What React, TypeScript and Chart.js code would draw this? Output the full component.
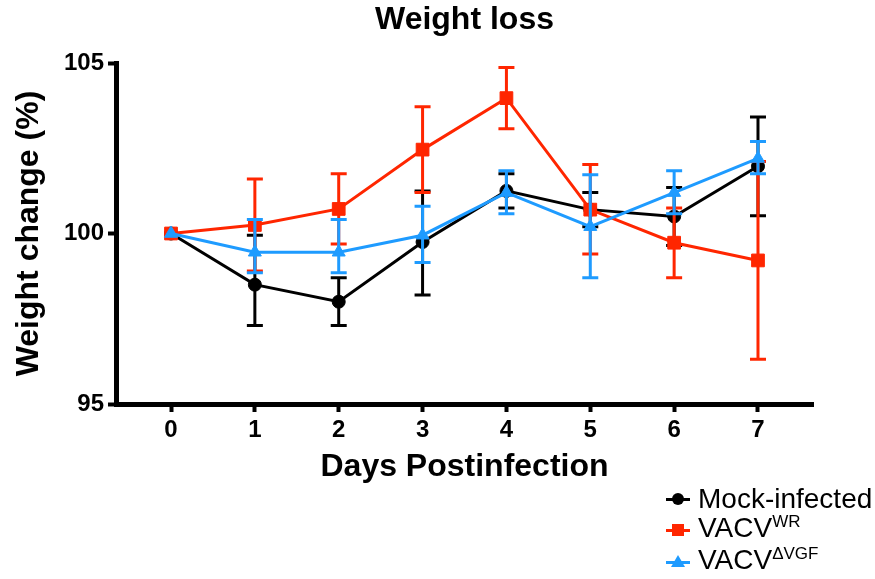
import React, { useEffect, useRef } from "react";
import { Chart, registerables } from "chart.js";

Chart.register(...registerables);

// ---- data ----
const days = [0, 1, 2, 3, 4, 5, 6, 7];
const yTicks = [95, 100, 105];

const mockMean = [100, 98.5, 98.0, 99.75, 101.25, 100.7, 100.5, 101.97];
const mockErrUp = [0, 1.45, 0.7, 1.5, 0.5, 0.5, 0.85, 1.45];
const mockErrDown = [0, 1.2, 0.7, 1.55, 0.5, 0.5, 0.85, 1.45];

const wrMean = [100, 100.25, 100.72, 102.46, 103.97, 100.7, 99.73, 99.21];
const wrErrUp = [0, 1.35, 1.03, 1.26, 0.9, 1.32, 1.02, 2.9];
const wrErrDown = [0, 1.35, 1.03, 1.26, 0.9, 1.3, 1.03, 2.9];

const vgfMean = [100, 99.45, 99.45, 99.95, 101.2, 100.2, 101.2, 102.2];
const vgfErrUp = [0, 0.96, 0.96, 0.85, 0.64, 1.52, 0.64, 0.5];
const vgfErrDown = [0, 0.6, 0.6, 0.8, 0.62, 1.5, 0.62, 0.45];

const BLACK = "#000000";
const RED = "#FF2600";
const BLUE = "#1E9BFF";
const FONT = "'Liberation Sans', Arial, Helvetica, sans-serif";

const errorBarPlugin = {
  id: "errorBars",
  beforeDatasetDraw(chart: any, args: any) {
    const ds = chart.data.datasets[args.index];
    if (!ds.errUp) return;
    const { ctx, scales } = chart;
    const xs = scales.x;
    const ys = scales.y;
    ctx.save();
    ctx.strokeStyle = ds.borderColor;
    ctx.lineWidth = 3;
    ctx.lineCap = "butt";
    ds.data.forEach((p: any, i: number) => {
      const up = ds.errUp[i];
      const down = ds.errDown[i];
      if (!up && !down) return;
      const x = xs.getPixelForValue(p.x);
      const yT = ys.getPixelForValue(p.y + up);
      const yB = ys.getPixelForValue(p.y - down);
      const half = 8;
      ctx.beginPath();
      ctx.moveTo(x, yT);
      ctx.lineTo(x, yB);
      ctx.moveTo(x - half, yT);
      ctx.lineTo(x + half, yT);
      ctx.moveTo(x - half, yB);
      ctx.lineTo(x + half, yB);
      ctx.stroke();
    });
    ctx.restore();
  },
};

function toPoints(vals: number[]) {
  return vals.map((v, i) => ({ x: days[i], y: v }));
}

export default function App() {
  const ref = useRef<HTMLCanvasElement | null>(null);

  useEffect(() => {
    if (!ref.current) return;
    const chart = new Chart(ref.current, {
      type: "line",
      data: {
        datasets: [
          {
            label: "VACV ΔVGF",
            data: toPoints(vgfMean),
            errUp: vgfErrUp,
            errDown: vgfErrDown,
            borderColor: BLUE,
            backgroundColor: BLUE,
            borderWidth: 3,
            pointStyle: "triangle",
            pointRadius: 7.5,
            pointBorderWidth: 1,
            tension: 0,
            order: 0,
          } as any,
          {
            label: "VACV WR",
            data: toPoints(wrMean),
            errUp: wrErrUp,
            errDown: wrErrDown,
            borderColor: RED,
            backgroundColor: RED,
            borderWidth: 3,
            pointStyle: "rect",
            pointRadius: 9,
            pointBorderWidth: 1,
            tension: 0,
            order: 1,
          } as any,
          {
            label: "Mock-infected",
            data: toPoints(mockMean),
            errUp: mockErrUp,
            errDown: mockErrDown,
            borderColor: BLACK,
            backgroundColor: BLACK,
            borderWidth: 3,
            pointStyle: "circle",
            pointRadius: 6.5,
            pointBorderWidth: 1,
            tension: 0,
            order: 2,
          } as any,
        ],
      },
      options: {
        responsive: false,
        animation: false,
        devicePixelRatio: 1,
        layout: { padding: { left: 0, right: 62, top: 0, bottom: 0 } },
        plugins: {
          legend: { display: false },
          tooltip: { enabled: false },
          title: {
            display: true,
            text: "Weight loss",
            color: BLACK,
            fullSize: false,
            font: { family: FONT, size: 32, weight: "bold" },
            padding: { top: 1, bottom: 23.6 },
          },
        },
        scales: {
          x: {
            type: "linear",
            min: -0.656,
            max: 7.656,
            afterBuildTicks: (s: any) => {
              s.ticks = days.map((v) => ({ value: v }));
            },
            afterFit: (s: any) => {
              s.height = 175;
            },
            ticks: {
              color: BLACK,
              padding: 4,
              font: { family: FONT, size: 24, weight: "bold" },
              callback: (v: any) => String(v),
            },
            grid: {
              display: true,
              drawOnChartArea: false,
              drawTicks: true,
              tickLength: 8,
              tickWidth: 4,
              tickColor: BLACK,
            },
            border: { display: true, width: 5, color: BLACK },
            title: {
              display: true,
              text: "Days Postinfection",
              color: BLACK,
              font: { family: FONT, size: 32, weight: "bold" },
              padding: { top: 0, bottom: 92.8 },
            },
          },
          y: {
            type: "linear",
            min: 95,
            max: 105,
            afterBuildTicks: (s: any) => {
              s.ticks = yTicks.map((v) => ({ value: v }));
            },
            afterFit: (s: any) => {
              s.width = 116;
            },
            ticks: {
              color: BLACK,
              padding: 4,
              font: { family: FONT, size: 24, weight: "bold" },
            },
            grid: {
              display: true,
              drawOnChartArea: false,
              drawTicks: true,
              tickLength: 8,
              tickWidth: 4,
              tickColor: BLACK,
            },
            border: { display: true, width: 5, color: BLACK },
            title: {
              display: true,
              text: "Weight change (%)",
              color: BLACK,
              font: { family: FONT, size: 32, weight: "bold" },
              padding: { top: 9.8, bottom: 0 },
            },
          },
        },
      } as any,
      plugins: [errorBarPlugin],
    });
    return () => chart.destroy();
  }, []);

  const rowStyle = (top: number): React.CSSProperties => ({
    position: "absolute",
    left: 666,
    top,
    height: 32,
    lineHeight: "32px",
    fontFamily: FONT,
    fontSize: 28,
    color: "#000",
    whiteSpace: "nowrap",
    display: "flex",
    alignItems: "center",
  });
  const lineSeg = (color: string): React.CSSProperties => ({
    position: "absolute",
    left: 0,
    top: 14.5,
    width: 24,
    height: 3,
    background: color,
  });
  const supStyle: React.CSSProperties = {
    fontSize: 17,
    position: "relative",
    top: -10,
  };

  return (
    <div
      style={{
        position: "fixed",
        left: 0,
        top: 0,
        width: 875,
        height: 579,
        background: "#fff",
        overflow: "hidden",
      }}
    >
      <canvas ref={ref} width={875} height={579} style={{ display: "block" }} />
      <div style={rowStyle(483)}>
        <div style={{ position: "relative", width: 32, height: 32 }}>
          <div style={lineSeg(BLACK)} />
          <div
            style={{
              position: "absolute",
              left: 6,
              top: 10,
              width: 12,
              height: 12,
              borderRadius: "50%",
              background: BLACK,
            }}
          />
        </div>
        <span>Mock-infected</span>
      </div>
      <div style={rowStyle(514)}>
        <div style={{ position: "relative", width: 32, height: 32 }}>
          <div style={lineSeg(RED)} />
          <div
            style={{
              position: "absolute",
              left: 6,
              top: 10,
              width: 12,
              height: 12,
              background: RED,
            }}
          />
        </div>
        <span>
          VACV<span style={supStyle}>WR</span>
        </span>
      </div>
      <div style={rowStyle(546)}>
        <div style={{ position: "relative", width: 32, height: 32 }}>
          <div style={lineSeg(BLUE)} />
          <div
            style={{
              position: "absolute",
              left: 5,
              top: 9,
              width: 0,
              height: 0,
              borderLeft: "7px solid transparent",
              borderRight: "7px solid transparent",
              borderBottom: `12px solid ${BLUE}`,
            }}
          />
        </div>
        <span>
          VACV<span style={supStyle}>ΔVGF</span>
        </span>
      </div>
    </div>
  );
}
